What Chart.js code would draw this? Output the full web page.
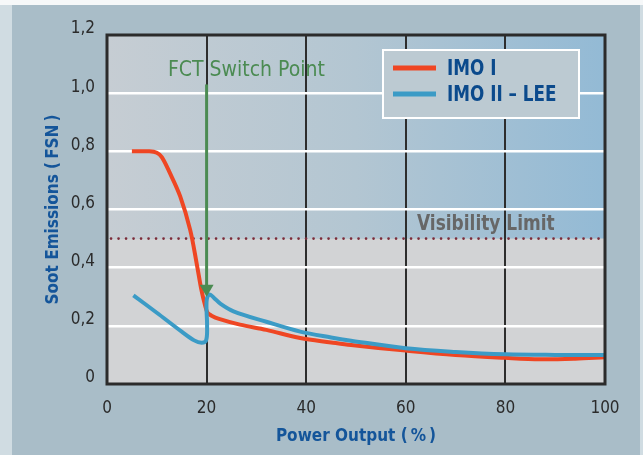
<!DOCTYPE html>
<html>
<head>
<meta charset="utf-8">
<script src="https://cdn.jsdelivr.net/npm/chart.js@4.4.1/dist/chart.umd.min.js"></script>
<style>
  html, body { margin: 0; padding: 0; background: #a9bdc8; }
  canvas { display: block; }
</style>
</head>
<body>
<canvas id="sootChart" width="643" height="455"></canvas>
<script>
// ===================================
// DATA
// ===================================

const seriesNames = ['IMO I', 'IMO II \u2013 LEE'];

// IMO I (red) - power output (%) / soot (FSN)
const imo1X = [5, 8.5, 10, 11, 12.5, 14.7, 16.7, 18, 19, 19.7, 20.2, 21, 22.5, 26.7, 32, 38.8, 45, 49, 60, 70, 80, 87, 94, 100];
const imo1Y = [0.8, 0.8, 0.795, 0.78, 0.73, 0.645, 0.53, 0.415, 0.32, 0.27, 0.245, 0.235, 0.224, 0.204, 0.186, 0.158, 0.143, 0.134, 0.115, 0.1, 0.09, 0.085, 0.087, 0.092];

// IMO II - LEE (blue)
const imo2X = [5.3, 10, 15, 17.5, 19, 19.9, 20.1, 20, 20.6, 21.5, 22.7, 25.4, 32, 38.8, 45, 49, 60, 70, 80, 90, 100];
const imo2Y = [0.305, 0.245, 0.18, 0.15, 0.142, 0.15, 0.2, 0.285, 0.308, 0.296, 0.277, 0.25, 0.214, 0.18, 0.16, 0.149, 0.123, 0.11, 0.102, 0.1, 0.1];

const xTicks = [0, 20, 40, 60, 80, 100];
const xTickLabels = ['0', '20', '40', '60', '80', '100'];
const yTicks = [0, 0.2, 0.4, 0.6, 0.8, 1.0, 1.2];
const yTickLabels = ['0', '0,2', '0,4', '0,6', '0,8', '1,0', '1,2'];

const visibilityLimit = 0.5;
const switchX = 20;
const switchTop = 1.03;
const switchTip = 0.30;

// ===================================
// STYLE
// ===================================

const condensed = "'Liberation Sans Narrow', 'DejaVu Sans Condensed', 'Roboto Condensed', Roboto, sans-serif";
const redColor = '#ef4623';
const blueColor = '#3b9bc6';
const greenColor = '#4b8b52';
const titleBlue = '#14559a';

function toPoints(xs, ys) {
    return xs.map((x, i) => ({ x: x, y: ys[i] }));
}

// text squeezed horizontally, to get closer to the condensed face of the original
function drawNarrowText(ctx, text, x, y, squeeze) {
    ctx.save();
    ctx.translate(x, y);
    ctx.scale(squeeze, 1);
    ctx.fillText(text, 0, 0);
    ctx.restore();
}

// ===================================
// PLUGINS
// ===================================

// page + plot-area backgrounds
const backgroundPlugin = {
    id: 'backgroundPlugin',
    beforeDraw(chart) {
        const { ctx, chartArea: a, scales } = chart;
        const w = chart.width, h = chart.height;
        ctx.save();
        ctx.fillStyle = '#a9bdc8';
        ctx.fillRect(0, 0, w, h);
        ctx.fillStyle = '#d0dce2';
        ctx.fillRect(0, 0, 12, h);
        ctx.fillRect(640, 0, w - 640, h);
        ctx.fillStyle = '#f6f8f9';
        ctx.fillRect(0, 0, w, 5);

        const yLimit = scales.y.getPixelForValue(visibilityLimit);
        const grad = ctx.createLinearGradient(a.left, 0, a.right, 0);
        grad.addColorStop(0, '#c6cdd3');
        grad.addColorStop(0.5, '#b3c6d2');
        grad.addColorStop(1, '#93bad5');
        ctx.fillStyle = grad;
        ctx.fillRect(a.left, a.top, a.right - a.left, yLimit - a.top);
        ctx.fillStyle = '#d2d3d5';
        ctx.fillRect(a.left, yLimit, a.right - a.left, a.bottom - yLimit);
        ctx.restore();
    }
};

// visibility limit dotted line + label
const limitPlugin = {
    id: 'limitPlugin',
    beforeDatasetsDraw(chart) {
        const { ctx, chartArea: a, scales } = chart;
        const y = scales.y.getPixelForValue(visibilityLimit);
        ctx.save();
        ctx.strokeStyle = '#7b2c3a';
        ctx.lineWidth = 2.6;
        ctx.lineCap = 'round';
        ctx.setLineDash([0.1, 7.4]);
        ctx.beginPath();
        ctx.moveTo(a.left + 4, y);
        ctx.lineTo(a.right, y);
        ctx.stroke();
        ctx.setLineDash([]);
        ctx.fillStyle = '#676767';
        ctx.font = 'bold 21px ' + condensed;
        ctx.textAlign = 'left';
        ctx.textBaseline = 'alphabetic';
        drawNarrowText(ctx, 'Visibility Limit', 417, y - 9, 0.9);
        ctx.restore();
    }
};

// FCT switch arrow, frame, legend
const overlayPlugin = {
    id: 'overlayPlugin',
    afterDatasetsDraw(chart) {
        const { ctx, chartArea: a, scales } = chart;
        const x = scales.x.getPixelForValue(switchX);
        const yTop = scales.y.getPixelForValue(switchTop);
        const yTip = scales.y.getPixelForValue(switchTip);
        ctx.save();

        // arrow
        ctx.strokeStyle = greenColor;
        ctx.fillStyle = greenColor;
        ctx.lineWidth = 3;
        ctx.beginPath();
        ctx.moveTo(x, yTop);
        ctx.lineTo(x, yTip - 10);
        ctx.stroke();
        ctx.beginPath();
        ctx.moveTo(x - 7, yTip - 12);
        ctx.lineTo(x + 7, yTip - 12);
        ctx.lineTo(x, yTip);
        ctx.closePath();
        ctx.fill();

        ctx.font = '21px ' + condensed;
        ctx.textAlign = 'left';
        ctx.textBaseline = 'alphabetic';
        ctx.fillText('FCT Switch Point', 168, 76);

        // frame
        ctx.strokeStyle = '#2b2b2b';
        ctx.lineWidth = 3;
        ctx.strokeRect(a.left, a.top, a.right - a.left, a.bottom - a.top);

        // legend
        const lx = 383, ly = 50, lw = 196, lh = 68;
        ctx.fillStyle = '#bccad2';
        ctx.fillRect(lx, ly, lw, lh);
        ctx.strokeStyle = '#ffffff';
        ctx.lineWidth = 2;
        ctx.strokeRect(lx, ly, lw, lh);
        const colors = [redColor, blueColor];
        ctx.font = 'bold 22px ' + condensed;
        ctx.textBaseline = 'middle';
        seriesNames.forEach((name, i) => {
            const yy = 68 + i * 26;
            ctx.strokeStyle = colors[i];
            ctx.lineWidth = 5;
            ctx.beginPath();
            ctx.moveTo(393, yy);
            ctx.lineTo(436, yy);
            ctx.stroke();
            ctx.fillStyle = '#0b4a8c';
            drawNarrowText(ctx, name, 447, yy + 1, 0.85);
        });
        ctx.restore();
    }
};

// ===================================
// CHART
// ===================================

const ctx = document.getElementById('sootChart').getContext('2d');

new Chart(ctx, {
    type: 'line',
    data: {
        datasets: [
            {
                label: seriesNames[0],
                data: toPoints(imo1X, imo1Y),
                borderColor: redColor,
                borderWidth: 4,
                pointRadius: 0,
                tension: 0.35,
                fill: false,
                order: 1
            },
            {
                label: seriesNames[1],
                data: toPoints(imo2X, imo2Y),
                borderColor: blueColor,
                borderWidth: 4,
                pointRadius: 0,
                tension: 0.35,
                fill: false,
                order: 0
            }
        ]
    },
    options: {
        responsive: false,
        devicePixelRatio: 1,
        animation: false,
        layout: { padding: { top: 35, right: 38, left: 0, bottom: 0 } },
        plugins: {
            legend: { display: false },
            tooltip: { enabled: false }
        },
        scales: {
            x: {
                type: 'linear',
                min: 0,
                max: 100,
                afterFit: s => { s.height = 71; },
                afterBuildTicks: s => { s.ticks = xTicks.map(v => ({ value: v })); },
                border: { display: false },
                grid: {
                    drawTicks: false,
                    lineWidth: 2,
                    color: c => (c.tick && (c.tick.value === 0 || c.tick.value === 100)) ? 'rgba(0,0,0,0)' : '#2d2d2d'
                },
                ticks: {
                    padding: 14,
                    color: '#2b2b2b',
                    font: { family: condensed, size: 17 },
                    callback: (v, i) => xTickLabels[i]
                },
                title: {
                    display: true,
                    text: 'Power Output (\u2009%\u2009)',
                    color: titleBlue,
                    font: { family: condensed, size: 17, weight: 'bold' },
                    padding: { top: 0, bottom: 8 }
                }
            },
            y: {
                min: 0,
                max: 1.2,
                afterFit: s => { s.width = 107; },
                afterBuildTicks: s => { s.ticks = yTicks.map(v => ({ value: v })); },
                border: { display: false },
                grid: {
                    drawTicks: false,
                    lineWidth: 2.5,
                    color: c => (c.tick && (c.tick.value === 0 || c.tick.value === 1.2)) ? 'rgba(0,0,0,0)' : '#ffffff'
                },
                ticks: {
                    padding: 12,
                    labelOffset: -6,
                    color: '#2b2b2b',
                    font: { family: condensed, size: 17 },
                    callback: (v, i) => yTickLabels[i]
                },
                title: {
                    display: true,
                    text: 'Soot Emissions (\u2009FSN\u2009)',
                    color: titleBlue,
                    font: { family: condensed, size: 17, weight: 'bold' },
                    padding: { top: 43, bottom: 0 }
                }
            }
        }
    },
    plugins: [backgroundPlugin, limitPlugin, overlayPlugin]
});
</script>
</body>
</html>
